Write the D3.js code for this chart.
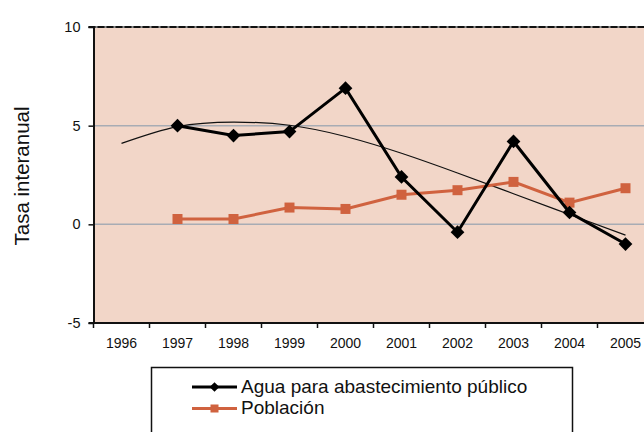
<!DOCTYPE html>
<html>
<head>
<meta charset="utf-8">
<script src="https://cdn.jsdelivr.net/npm/d3@7/dist/d3.min.js"></script>
<style>
  html, body { margin: 0; padding: 0; background: #fff; }
  svg { display: block; font-family: "Liberation Sans", Arial, sans-serif; }
</style>
</head>
<body>
<svg id="chart" width="644" height="432"></svg>
<script>
// Annual rates: public water supply vs. population
const years = ["1996", "1997", "1998", "1999", "2000", "2001", "2002", "2003", "2004", "2005"];
const aguaYears = ["1997", "1998", "1999", "2000", "2001", "2002", "2003", "2004", "2005"];
const aguaValues = [5.0, 4.5, 4.7, 6.9, 2.4, -0.4, 4.2, 0.6, -1.0];
const poblacionValues = [0.27, 0.27, 0.85, 0.78, 1.5, 1.73, 2.15, 1.1, 1.83];
// polynomial trend of the water series, evaluated at each year
const trendYears = ["1996", "1997", "1998", "1999", "2000", "2001", "2002", "2003", "2004", "2005"];
const trendValues = [4.1, 4.95, 5.18, 5.02, 4.45, 3.6, 2.6, 1.55, 0.5, -0.55];
const yTicks = [-5, 0, 5, 10];
const seriesNames = ["Agua para abastecimiento público", "Población"];
const yTitle = "Tasa interanual";

const svg = d3.select("#chart");
const plotLeft = 93.5, plotTop = 27, plotBottom = 323, bandW = 56;
const x = d3.scaleBand().domain(years).range([plotLeft, plotLeft + bandW * years.length]).padding(0);
const y = d3.scaleLinear().domain([-5, 10]).range([plotBottom, plotTop]);
const cx = d => x(d) + x.bandwidth() / 2;

const colAgua = "#000000", colPob = "#d0623f";
const fontStack = "'Liberation Sans', Arial, sans-serif";

// plot area
svg.append("rect")
  .attr("x", plotLeft).attr("y", plotTop)
  .attr("width", 644 - plotLeft).attr("height", plotBottom - plotTop)
  .attr("fill", "#f2d6c8");

// gridlines
svg.append("g").selectAll("line").data([0, 5]).join("line")
  .attr("x1", plotLeft).attr("x2", 644)
  .attr("y1", d => y(d)).attr("y2", d => y(d))
  .attr("stroke", "#a8acb4").attr("stroke-width", 1.5);

// top border
svg.append("line").attr("x1", plotLeft - 5).attr("x2", 644).attr("y1", y(10)).attr("y2", y(10))
  .attr("stroke", "#8c8c8c").attr("stroke-width", 2);
svg.append("line").attr("x1", plotLeft - 5).attr("x2", 644).attr("y1", y(10)).attr("y2", y(10))
  .attr("stroke", "#111").attr("stroke-width", 2).attr("stroke-dasharray", "7,2");

// y axis
const yAxis = svg.append("g").attr("transform", `translate(${plotLeft},0)`)
  .call(d3.axisLeft(y).tickValues(yTicks).tickFormat(d => String(d))
    .tickSize(5).tickPadding(8).tickSizeOuter(0));
yAxis.attr("font-family", null).attr("font-size", null);
yAxis.select(".domain").attr("stroke", "#111").attr("stroke-width", 2);
yAxis.selectAll(".tick line").attr("stroke", "#111").attr("stroke-width", 1.5);
yAxis.selectAll(".tick text").style("font-size", "14.5px").style("font-family", fontStack).attr("fill", "#111");

// x axis: labels centred in bands, tick marks at band edges
const xAxis = svg.append("g").attr("transform", `translate(0,${plotBottom})`)
  .call(d3.axisBottom(x).tickSize(0).tickPadding(15));
xAxis.attr("font-family", null).attr("font-size", null);
xAxis.select(".domain").remove();
xAxis.selectAll(".tick text").style("font-size", "14px").style("font-family", fontStack).attr("fill", "#111");
svg.append("line").attr("x1", plotLeft - 5).attr("x2", 644).attr("y1", plotBottom).attr("y2", plotBottom)
  .attr("stroke", "#111").attr("stroke-width", 2);
svg.append("g").selectAll("line").data(years).join("line")
  .attr("x1", d => x(d)).attr("x2", d => x(d))
  .attr("y1", plotBottom).attr("y2", plotBottom + 5)
  .attr("stroke", "#111").attr("stroke-width", 1.5);

// y title
svg.append("text")
  .attr("transform", `translate(29,176) rotate(-90)`)
  .attr("text-anchor", "middle")
  .style("font-size", "20.5px").attr("fill", "#111")
  .text(yTitle);

// trend line
const trendLine = d3.line().x((d, i) => cx(trendYears[i])).y(d => y(d)).curve(d3.curveNatural);
svg.append("path").datum(trendValues).attr("d", trendLine)
  .attr("fill", "none").attr("stroke", "#111").attr("stroke-width", 1.2);

// población series
const pobLine = d3.line().x((d, i) => cx(aguaYears[i])).y(d => y(d));
svg.append("path").datum(poblacionValues).attr("d", pobLine)
  .attr("fill", "none").attr("stroke", colPob).attr("stroke-width", 3);
svg.append("g").selectAll("rect").data(poblacionValues).join("rect")
  .attr("x", (d, i) => cx(aguaYears[i]) - 5).attr("y", d => y(d) - 5)
  .attr("width", 10).attr("height", 10).attr("fill", colPob);

// agua series
const aguaLine = d3.line().x((d, i) => cx(aguaYears[i])).y(d => y(d));
svg.append("path").datum(aguaValues).attr("d", aguaLine)
  .attr("fill", "none").attr("stroke", colAgua).attr("stroke-width", 3);
const diamond = d3.symbol().type(d3.symbolDiamond2).size(120);
svg.append("g").selectAll("path").data(aguaValues).join("path")
  .attr("transform", (d, i) => `translate(${cx(aguaYears[i])},${y(d)})`)
  .attr("d", diamond).attr("fill", colAgua);

// legend
const lg = svg.append("g");
lg.append("rect").attr("x", 151.5).attr("y", 367.5).attr("width", 421).attr("height", 80)
  .attr("fill", "#fff").attr("stroke", "#111").attr("stroke-width", 1.5);
const items = [
  { name: seriesNames[0], color: colAgua, y: 387, marker: "diamond" },
  { name: seriesNames[1], color: colPob, y: 408.5, marker: "square" }
];
items.forEach(it => {
  lg.append("line").attr("x1", 192).attr("x2", 237).attr("y1", it.y).attr("y2", it.y)
    .attr("stroke", it.color).attr("stroke-width", 3);
  if (it.marker === "diamond") {
    lg.append("path").attr("transform", `translate(214.5,${it.y})`)
      .attr("d", d3.symbol().type(d3.symbolDiamond2).size(60)).attr("fill", it.color);
  } else {
    lg.append("rect").attr("x", 210.5).attr("y", it.y - 4).attr("width", 8).attr("height", 8)
      .attr("fill", it.color);
  }
  lg.append("text").attr("x", 241).attr("y", it.y + 5.5)
    .style("font-size", "19px").attr("fill", "#111").text(it.name);
});
</script>
</body>
</html>
